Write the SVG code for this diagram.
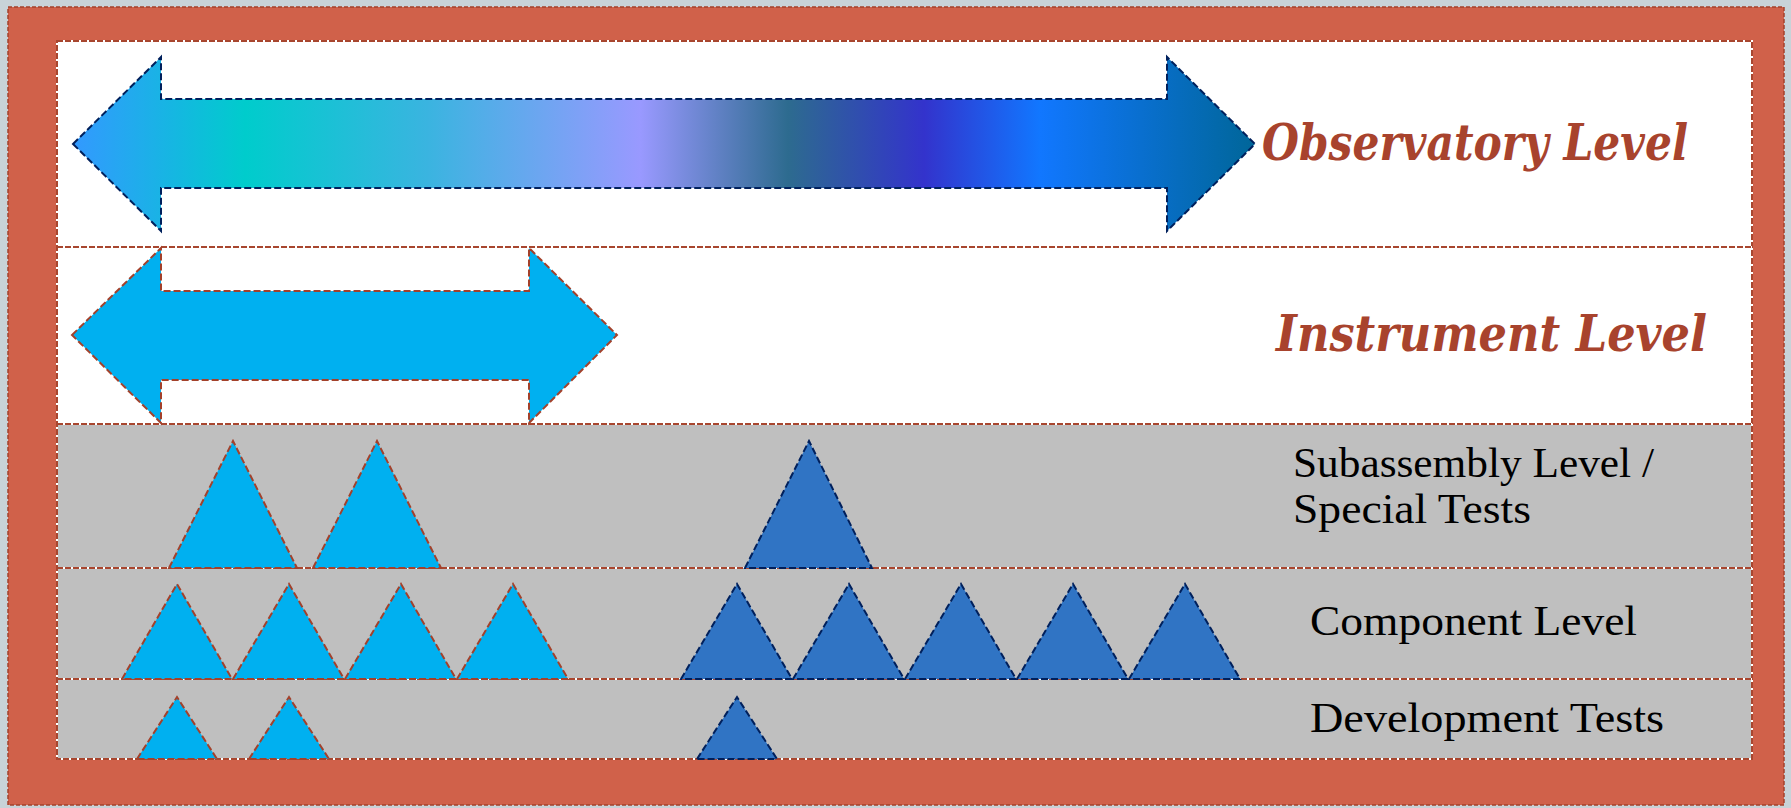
<svg xmlns="http://www.w3.org/2000/svg" width="1791" height="808" viewBox="0 0 1791 808">
  <defs>
    <linearGradient id="obsGrad" gradientUnits="userSpaceOnUse" x1="73" y1="0" x2="1255" y2="0">
      <stop offset="0" stop-color="#3399ff"/>
      <stop offset="0.146" stop-color="#00cccc"/>
      <stop offset="0.30" stop-color="#3ab4e0"/>
      <stop offset="0.48" stop-color="#9999ff"/>
      <stop offset="0.605" stop-color="#2d6b8f"/>
      <stop offset="0.72" stop-color="#3333cc"/>
      <stop offset="0.818" stop-color="#1177ff"/>
      <stop offset="1" stop-color="#006699"/>
    </linearGradient>
    <style>
      .frame { fill: #d0614a; stroke: #a3412b; stroke-width: 1.5; stroke-dasharray: 4 2; }
      .band-white { fill: #ffffff; }
      .band-gray { fill: #bfbfbf; }
      .sep-under { stroke: #ffffff; stroke-width: 2; fill: none; }
      .sep { stroke: #a8462f; stroke-width: 2; stroke-dasharray: 6 2; fill: none; }
      .tri-light { fill: #00b0f0; stroke: #a3412b; stroke-width: 2; stroke-dasharray: 7 3; }
      .tri-dark { fill: #3074c4; stroke: #00205c; stroke-width: 2; stroke-dasharray: 7 3; }
      .arrow-obs { fill: url(#obsGrad); stroke: #00205c; stroke-width: 2; stroke-dasharray: 7 3; }
      .arrow-inst { fill: #00b0f0; stroke: #a3412b; stroke-width: 2; stroke-dasharray: 7 3; }
      .lvl-title { font-family: "DejaVu Serif", "Liberation Serif", serif; font-weight: bold; font-style: italic; font-size: 51px; fill: #a8432d; }
      .lvl-label { font-family: "Liberation Serif", "DejaVu Serif", serif; font-size: 43px; fill: #000000; }
    </style>
  </defs>

  <!-- page background and frame -->
  <rect x="0" y="0" width="1791" height="808" fill="#c8d3d8"/>
  <rect class="frame" x="8" y="7" width="1776" height="798"/>

  <!-- level bands -->
  <g id="band-observatory">
    <rect class="band-white" x="57" y="41" width="1695" height="206"/>
  </g>
  <g id="band-instrument">
    <rect class="band-white" x="57" y="247" width="1695" height="177"/>
  </g>
  <g id="band-subassembly">
    <rect class="band-gray" x="57" y="424" width="1695" height="144"/>
  </g>
  <g id="band-component">
    <rect class="band-gray" x="57" y="568" width="1695" height="111"/>
  </g>
  <g id="band-development">
    <rect class="band-gray" x="57" y="679" width="1695" height="80"/>
  </g>

  <!-- band outlines and separators -->
  <g id="separators">
    <rect class="sep-under" x="57" y="41" width="1695" height="718"/>
    <rect class="sep" x="57" y="41" width="1695" height="718"/>
    <path class="sep-under" d="M57 247H1752M57 424H1752M57 568H1752M57 679H1752"/>
    <path class="sep" d="M57 247H1752M57 424H1752M57 568H1752M57 679H1752"/>
  </g>

  <!-- observatory level span arrow -->
  <g id="arrow-observatory">
    <polygon class="arrow-obs" points="73,144 161,57 161,99 1167,99 1167,57 1255,144 1167,231 1167,188 161,188 161,231"/>
  </g>

  <!-- instrument level span arrow -->
  <g id="arrow-instrument">
    <polygon class="arrow-inst" points="72,335 161,248 161,291 529,291 529,248 617,335 529,423 529,380 161,380 161,423"/>
  </g>

  <!-- subassembly level tests -->
  <g id="sub-tests">
    <polygon class="tri-light" points="169,568 233,441 297,568"/>
    <polygon class="tri-light" points="313,568 377,441 441,568"/>
    <polygon class="tri-dark" points="745,568 809,441 872,568"/>
  </g>

  <!-- component level tests -->
  <g id="component-tests">
    <polygon class="tri-light" points="122,679 177,584 232,679"/>
    <polygon class="tri-light" points="233,679 289,584 344,679"/>
    <polygon class="tri-light" points="345,679 401,584 456,679"/>
    <polygon class="tri-light" points="457,679 513,584 568,679"/>
    <polygon class="tri-dark" points="681,679 737,584 792,679"/>
    <polygon class="tri-dark" points="793,679 849,584 904,679"/>
    <polygon class="tri-dark" points="905,679 961,584 1016,679"/>
    <polygon class="tri-dark" points="1017,679 1073,584 1128,679"/>
    <polygon class="tri-dark" points="1129,679 1185,584 1240,679"/>
  </g>

  <!-- development tests -->
  <g id="development-tests">
    <polygon class="tri-light" points="137,759 177,697 217,759"/>
    <polygon class="tri-light" points="249,759 289,697 329,759"/>
    <polygon class="tri-dark" points="697,759 737,697 777,759"/>
  </g>

  <!-- level labels -->
  <g id="label-observatory">
    <text class="lvl-title" x="1262" y="160" textLength="426" lengthAdjust="spacingAndGlyphs">Observatory Level</text>
  </g>
  <g id="label-instrument">
    <text class="lvl-title" x="1276" y="351" textLength="431" lengthAdjust="spacingAndGlyphs">Instrument Level</text>
  </g>
  <g id="label-subassembly">
    <text class="lvl-label" x="1293" y="477" textLength="361" lengthAdjust="spacingAndGlyphs">Subassembly Level /</text>
    <text class="lvl-label" x="1293" y="523" textLength="238" lengthAdjust="spacingAndGlyphs">Special Tests</text>
  </g>
  <g id="label-component">
    <text class="lvl-label" x="1310" y="635" textLength="327" lengthAdjust="spacingAndGlyphs">Component  Level</text>
  </g>
  <g id="label-development">
    <text class="lvl-label" x="1310" y="732" textLength="354" lengthAdjust="spacingAndGlyphs">Development  Tests</text>
  </g>
</svg>
